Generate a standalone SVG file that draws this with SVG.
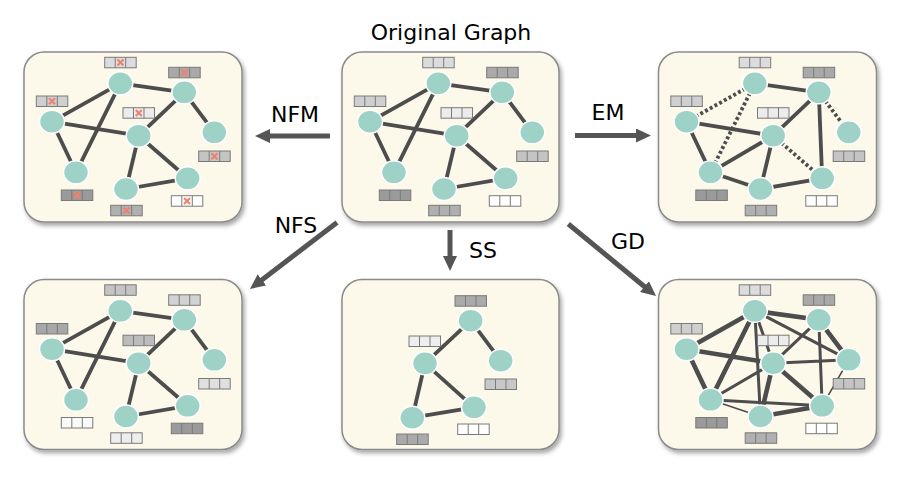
<svg xmlns="http://www.w3.org/2000/svg" xmlns:xlink="http://www.w3.org/1999/xlink" width="910" height="484" viewBox="0 0 910 484">
<style>
.panel{fill:#fdf9ea;stroke:#8a8a8a;stroke-width:1.5;filter:url(#sh)}
.n{fill:#9fd2c6;stroke:#ffffff;stroke-width:1.5}
.e{stroke:#4d4d4d;stroke-width:3.8;fill:none;stroke-linecap:butt}
.dot{stroke-dasharray:3 2.4}
.t1{stroke-width:4.6}
.t2{stroke-width:3}
.t3{stroke-width:1.6}
.lbl{font-family:"Comic Sans MS","DejaVu Sans",sans-serif;font-size:22px;fill:#000;text-anchor:middle}
.arr{stroke:#555555;stroke-width:5;fill:none;marker-end:url(#ah)}
</style>
<defs>
<filter id="sh" x="-10%" y="-10%" width="125%" height="125%">
<feDropShadow dx="2" dy="3" stdDeviation="2.2" flood-color="#000" flood-opacity="0.35"/>
</filter>
<marker id="ah" markerWidth="3" markerHeight="2.8" refX="1" refY="1.4" orient="auto" markerUnits="strokeWidth">
<path d="M0,0 L3,1.4 L0,2.8 z" fill="#555555"/>
</marker>
<g id="fb"><rect width="31.5" height="10.5" stroke="#7a7a7a" stroke-width="1"/><path d="M10.5,0v10.5M21,0v10.5" stroke="#7a7a7a" stroke-width="1" fill="none"/></g>
<path id="xm" d="M-3,-3L3,3M3,-3L-3,3" stroke="#f0806f" stroke-width="2.2" fill="none"/>
</defs>
<rect width="910" height="484" fill="#ffffff"/>

<text class="lbl" x="451" y="40">Original Graph</text>

<g id="connectors">
<line class="arr" x1="330" y1="136" x2="265" y2="136"/>
<line class="arr" x1="575" y1="135.5" x2="641" y2="135.5"/>
<line class="arr" x1="450" y1="230" x2="450" y2="261"/>
<line class="arr" x1="337" y1="222.5" x2="257.9" y2="282.9"/>
<line class="arr" x1="568.3" y1="224" x2="648.3" y2="289.7"/>
</g>
<text class="lbl" x="295" y="122">NFM</text>
<text class="lbl" x="608" y="119.5">EM</text>
<text class="lbl" x="296" y="233">NFS</text>
<text class="lbl" x="483" y="258">SS</text>
<text class="lbl" x="628" y="249">GD</text>

<!-- Original -->
<g id="panel-original" transform="translate(342,52)">
<rect class="panel" width="217" height="170" rx="20"/>
<g id="orig-edges">
<path class="e" d="M96.3,31.3L160.3,40.3M96.3,31.3L28,69.7M96.3,31.3L52,120.3M28,69.7L114.7,83.7M28,69.7L52,120.3M114.7,83.7L160.3,40.3M114.7,83.7L102,137M114.7,83.7L163.7,126.3M102,137L163.7,126.3M160.3,40.3L190.3,80.3"/>
</g>
<g id="orig-A"><use href="#fb" x="80.7" y="5.3" fill="#dcdcdc"/><ellipse class="n" cx="96.3" cy="31.3" rx="12.5" ry="11.5"/></g>
<g id="orig-B"><use href="#fb" x="144.7" y="15.3" fill="#a9a9a9"/><ellipse class="n" cx="160.3" cy="40.3" rx="12.5" ry="11.5"/></g>
<g id="orig-C"><use href="#fb" x="12.3" y="44" fill="#cfcfcf"/><ellipse class="n" cx="28" cy="69.7" rx="12.5" ry="11.5"/></g>
<g id="orig-D"><use href="#fb" x="99" y="55.7" fill="#ececec"/><ellipse class="n" cx="114.7" cy="83.7" rx="12.5" ry="11.5"/></g>
<g id="orig-E"><use href="#fb" x="174.7" y="99" fill="#c4c4c4"/><ellipse class="n" cx="190.3" cy="80.3" rx="12.5" ry="11.5"/></g>
<g id="orig-F"><use href="#fb" x="37.3" y="138" fill="#9a9a9a"/><ellipse class="n" cx="52" cy="120.3" rx="12.5" ry="11.5"/></g>
<g id="orig-G"><use href="#fb" x="86.7" y="153.3" fill="#b0b0b0"/><ellipse class="n" cx="102" cy="137" rx="12.5" ry="11.5"/></g>
<g id="orig-H"><use href="#fb" x="147.3" y="143.7" fill="#ffffff"/><ellipse class="n" cx="163.7" cy="126.3" rx="12.5" ry="11.5"/></g>
</g>

<!-- NFM -->
<g id="panel-nfm" transform="translate(24,52)">
<rect class="panel" width="218" height="170" rx="20"/>
<g id="nfm-edges">
<path class="e" d="M96.3,31.3L160.3,40.3M96.3,31.3L28,69.7M96.3,31.3L52,120.3M28,69.7L114.7,83.7M28,69.7L52,120.3M114.7,83.7L160.3,40.3M114.7,83.7L102,137M114.7,83.7L163.7,126.3M102,137L163.7,126.3M160.3,40.3L190.3,80.3"/>
</g>
<g id="nfm-A"><use href="#fb" x="80.7" y="5.3" fill="#dcdcdc"/><use href="#xm" x="96.45" y="10.55"/><ellipse class="n" cx="96.3" cy="31.3" rx="12.5" ry="11.5"/></g>
<g id="nfm-B"><use href="#fb" x="144.7" y="15.3" fill="#a9a9a9"/><use href="#xm" x="160.45" y="20.55"/><ellipse class="n" cx="160.3" cy="40.3" rx="12.5" ry="11.5"/></g>
<g id="nfm-C"><use href="#fb" x="12.3" y="44" fill="#cfcfcf"/><use href="#xm" x="28.05" y="49.25"/><ellipse class="n" cx="28" cy="69.7" rx="12.5" ry="11.5"/></g>
<g id="nfm-D"><use href="#fb" x="99" y="55.7" fill="#ececec"/><use href="#xm" x="114.75" y="60.95"/><ellipse class="n" cx="114.7" cy="83.7" rx="12.5" ry="11.5"/></g>
<g id="nfm-E"><use href="#fb" x="174.7" y="99" fill="#c4c4c4"/><use href="#xm" x="190.45" y="104.25"/><ellipse class="n" cx="190.3" cy="80.3" rx="12.5" ry="11.5"/></g>
<g id="nfm-F"><use href="#fb" x="37.3" y="138" fill="#9a9a9a"/><use href="#xm" x="53.05" y="143.25"/><ellipse class="n" cx="52" cy="120.3" rx="12.5" ry="11.5"/></g>
<g id="nfm-G"><use href="#fb" x="86.7" y="153.3" fill="#b0b0b0"/><use href="#xm" x="102.45" y="158.55"/><ellipse class="n" cx="102" cy="137" rx="12.5" ry="11.5"/></g>
<g id="nfm-H"><use href="#fb" x="147.3" y="143.7" fill="#ffffff"/><use href="#xm" x="163.05" y="148.95"/><ellipse class="n" cx="163.7" cy="126.3" rx="12.5" ry="11.5"/></g>
</g>

<!-- EM -->
<g id="panel-em" transform="translate(658.5,52)">
<rect class="panel" width="218" height="170" rx="20"/>
<g id="em-edges">
<path class="e" d="M96.3,31.3L160.3,40.3M28,69.7L114.7,83.7M28,69.7L52,120.3M114.7,83.7L160.3,40.3M114.7,83.7L102,137M102,137L163.7,126.3M52,120.3L114.7,83.7M52,120.3L102,137M160.3,40.3L163.7,126.3"/>
<path class="e dot" d="M96.3,31.3L28,69.7M96.3,31.3L52,120.3M114.7,83.7L163.7,126.3M160.3,40.3L190.3,80.3"/>
</g>
<g id="em-A"><use href="#fb" x="80.7" y="5.3" fill="#dcdcdc"/><ellipse class="n" cx="96.3" cy="31.3" rx="12.5" ry="11.5"/></g>
<g id="em-B"><use href="#fb" x="144.7" y="15.3" fill="#a9a9a9"/><ellipse class="n" cx="160.3" cy="40.3" rx="12.5" ry="11.5"/></g>
<g id="em-C"><use href="#fb" x="12.3" y="44" fill="#cfcfcf"/><ellipse class="n" cx="28" cy="69.7" rx="12.5" ry="11.5"/></g>
<g id="em-D"><use href="#fb" x="99" y="55.7" fill="#ececec"/><ellipse class="n" cx="114.7" cy="83.7" rx="12.5" ry="11.5"/></g>
<g id="em-E"><use href="#fb" x="174.7" y="99" fill="#c4c4c4"/><ellipse class="n" cx="190.3" cy="80.3" rx="12.5" ry="11.5"/></g>
<g id="em-F"><use href="#fb" x="37.3" y="138" fill="#9a9a9a"/><ellipse class="n" cx="52" cy="120.3" rx="12.5" ry="11.5"/></g>
<g id="em-G"><use href="#fb" x="86.7" y="153.3" fill="#b0b0b0"/><ellipse class="n" cx="102" cy="137" rx="12.5" ry="11.5"/></g>
<g id="em-H"><use href="#fb" x="147.3" y="143.7" fill="#ffffff"/><ellipse class="n" cx="163.7" cy="126.3" rx="12.5" ry="11.5"/></g>
</g>

<!-- NFS -->
<g id="panel-nfs" transform="translate(24,279.5)">
<rect class="panel" width="218" height="170" rx="20"/>
<g id="nfs-edges">
<path class="e" d="M96.3,31.3L160.3,40.3M96.3,31.3L28,69.7M96.3,31.3L52,120.3M28,69.7L114.7,83.7M28,69.7L52,120.3M114.7,83.7L160.3,40.3M114.7,83.7L102,137M114.7,83.7L163.7,126.3M102,137L163.7,126.3M160.3,40.3L190.3,80.3"/>
</g>
<g id="nfs-A"><use href="#fb" x="80.7" y="5.3" fill="#c4c4c4"/><ellipse class="n" cx="96.3" cy="31.3" rx="12.5" ry="11.5"/></g>
<g id="nfs-B"><use href="#fb" x="144.7" y="15.3" fill="#d2d2d2"/><ellipse class="n" cx="160.3" cy="40.3" rx="12.5" ry="11.5"/></g>
<g id="nfs-C"><use href="#fb" x="12.3" y="44" fill="#a8a8a8"/><ellipse class="n" cx="28" cy="69.7" rx="12.5" ry="11.5"/></g>
<g id="nfs-D"><use href="#fb" x="99" y="55.7" fill="#bcbcbc"/><ellipse class="n" cx="114.7" cy="83.7" rx="12.5" ry="11.5"/></g>
<g id="nfs-E"><use href="#fb" x="174.7" y="99" fill="#e0e0e0"/><ellipse class="n" cx="190.3" cy="80.3" rx="12.5" ry="11.5"/></g>
<g id="nfs-F"><use href="#fb" x="37.3" y="138" fill="#fafafa"/><ellipse class="n" cx="52" cy="120.3" rx="12.5" ry="11.5"/></g>
<g id="nfs-G"><use href="#fb" x="86.7" y="153.3" fill="#eeeeee"/><ellipse class="n" cx="102" cy="137" rx="12.5" ry="11.5"/></g>
<g id="nfs-H"><use href="#fb" x="147.3" y="143.7" fill="#9a9a9a"/><ellipse class="n" cx="163.7" cy="126.3" rx="12.5" ry="11.5"/></g>
</g>

<!-- SS -->
<g id="panel-ss" transform="translate(342,279.5)">
<rect class="panel" width="217" height="170" rx="20"/>
<g id="ss-edges">
<path class="e" d="M128.7,41.2L83,83.8M128.7,41.2L158.7,81.2M83,83.8L70.3,138.2M83,83.8L132,127.8M70.3,138.2L132,127.8"/>
</g>
<g id="ss-1"><use href="#fb" x="113" y="16.2" fill="#aaaaaa"/><ellipse class="n" cx="128.7" cy="41.2" rx="12.5" ry="11.5"/></g>
<g id="ss-2"><use href="#fb" x="67" y="56.5" fill="#eeeeee"/><ellipse class="n" cx="83" cy="83.8" rx="12.5" ry="11.5"/></g>
<g id="ss-3"><use href="#fb" x="143" y="99.5" fill="#c8c8c8"/><ellipse class="n" cx="158.7" cy="81.2" rx="12.5" ry="11.5"/></g>
<g id="ss-4"><use href="#fb" x="54.7" y="154.5" fill="#aaaaaa"/><ellipse class="n" cx="70.3" cy="138.2" rx="12.5" ry="11.5"/></g>
<g id="ss-5"><use href="#fb" x="115.7" y="144.5" fill="#ffffff"/><ellipse class="n" cx="132" cy="127.8" rx="12.5" ry="11.5"/></g>
</g>

<!-- GD -->
<g id="panel-gd" transform="translate(658.5,279.5)">
<rect class="panel" width="218" height="170" rx="20"/>
<g id="gd-edges">
<path class="e t1" d="M96.3,31.3L160.3,40.3M96.3,31.3L28,69.7M96.3,31.3L52,120.3M160.3,40.3L190.3,80.3M28,69.7L114.7,83.7M28,69.7L52,120.3M114.7,83.7L102,137M114.7,83.7L163.7,126.3M102,137L163.7,126.3"/>
<path class="e t2" d="M96.3,31.3L102,137M96.3,31.3L114.7,83.7M96.3,31.3L190.3,80.3M160.3,40.3L114.7,83.7M160.3,40.3L163.7,126.3M114.7,83.7L190.3,80.3M114.7,83.7L52,120.3M52,120.3L163.7,126.3"/>
<path class="e t3" d="M190.3,80.3L163.7,126.3M52,120.3L102,137"/>
</g>
<g id="gd-A"><use href="#fb" x="80.7" y="5.3" fill="#dcdcdc"/><ellipse class="n" cx="96.3" cy="31.3" rx="12.5" ry="11.5"/></g>
<g id="gd-B"><use href="#fb" x="144.7" y="15.3" fill="#a9a9a9"/><ellipse class="n" cx="160.3" cy="40.3" rx="12.5" ry="11.5"/></g>
<g id="gd-C"><use href="#fb" x="12.3" y="44" fill="#cfcfcf"/><ellipse class="n" cx="28" cy="69.7" rx="12.5" ry="11.5"/></g>
<g id="gd-D"><use href="#fb" x="99" y="55.7" fill="#ececec"/><ellipse class="n" cx="114.7" cy="83.7" rx="12.5" ry="11.5"/></g>
<g id="gd-E"><use href="#fb" x="174.7" y="99" fill="#c4c4c4"/><ellipse class="n" cx="190.3" cy="80.3" rx="12.5" ry="11.5"/></g>
<g id="gd-F"><use href="#fb" x="37.3" y="138" fill="#9a9a9a"/><ellipse class="n" cx="52" cy="120.3" rx="12.5" ry="11.5"/></g>
<g id="gd-G"><use href="#fb" x="86.7" y="153.3" fill="#b0b0b0"/><ellipse class="n" cx="102" cy="137" rx="12.5" ry="11.5"/></g>
<g id="gd-H"><use href="#fb" x="147.3" y="143.7" fill="#ffffff"/><ellipse class="n" cx="163.7" cy="126.3" rx="12.5" ry="11.5"/></g>
</g>
</svg>
